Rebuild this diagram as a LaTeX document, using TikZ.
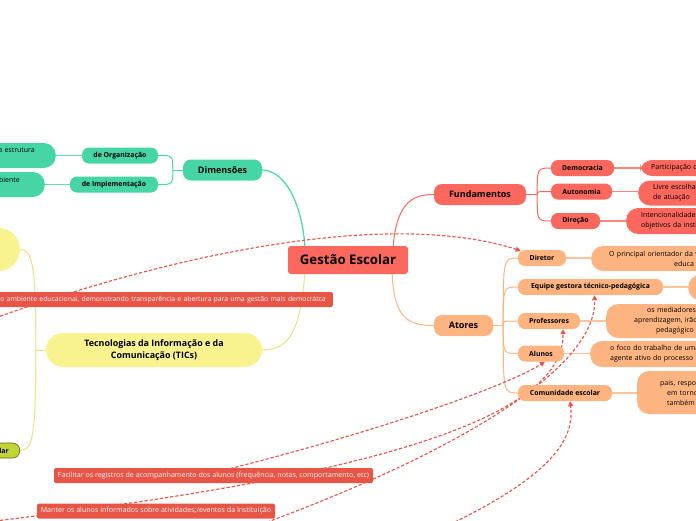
\documentclass[tikz,border=0pt]{standalone}
\usepackage{fontspec}
\setmainfont{Open Sans}
\usepackage{tikz}
\usetikzlibrary{arrows.meta}
\definecolor{RootRed}{RGB}{252,104,94}
\definecolor{LinkRed}{RGB}{232,84,70}
\definecolor{DimGreen}{RGB}{70,214,165}
\definecolor{TicYellow}{RGB}{248,243,142}
\definecolor{AtorOrange}{RGB}{254,180,128}
\definecolor{LimeNode}{RGB}{194,212,52}
\definecolor{LimeDark}{RGB}{90,100,30}
\pgfdeclarelayer{bg}
\pgfdeclarelayer{links}
\pgfsetlayers{bg,links,main}
\tikzset{
  rootbox/.style={fill=RootRed, rounded corners=3pt, minimum width=120pt, minimum height=28pt,
    inner sep=0pt, font=\fontsize{13.2}{15}\selectfont\bfseries},
  topicbox/.style={rounded corners=8pt, minimum height=21pt, inner sep=0pt,
    font=\fontsize{9}{11}\selectfont\bfseries},
  subbox/.style={rounded corners=7pt, minimum height=16pt, inner sep=0pt,
    font=\fontsize{6.9}{8}\selectfont\bfseries},
  leafbox/.style={rounded corners=12pt, anchor=west, inner ysep=0pt, text width=90pt, align=left,
    font=\fontsize{7}{10}\selectfont},
  linkbox/.style={fill=LinkRed, rounded corners=1.5pt, text=white, inner sep=0pt, minimum height=15pt,
    font=\fontsize{7.1}{8}\selectfont},
  linkarr/.style={LinkRed, line width=1.15pt, dash pattern=on 3.2pt off 2pt,
    -{Triangle[length=5pt,width=5pt]}},
  branch/.style={line width=1pt},
  twig/.style={line width=1.6pt},
}

\begin{document}
\begin{tikzpicture}[x=1pt, y=-1pt]
  \useasboundingbox (0,0) rectangle (696,520);
  % central topic
  \node[rootbox] (gestao) at (348,260) {Gestão Escolar};
  % Dimensões
  \node[topicbox, fill=DimGreen, minimum width=79pt] (dim) at (222.5,170) {Dimensões};
  \node[subbox, fill=DimGreen, minimum width=76pt] (org) at (120,155.5) {de Organização};
  \node[subbox, fill=DimGreen, minimum width=88pt] (impl) at (114,184.5) {de Implementação};
  \node[leafbox, fill=DimGreen, anchor=east, minimum height=25pt, text width=80pt, align=right,
    inner xsep=21pt] (orgleaf) at (56,155.5) {a estrutura\\\mbox{}};
  \node[leafbox, fill=DimGreen, anchor=east, minimum height=25pt, text width=80pt, align=right,
    inner xsep=25pt] (implleaf) at (45,184.5) {biente\\\mbox{}};
  % TICs
  \node[fill=TicYellow, rounded corners=17pt, minimum width=216pt, minimum height=34pt, inner sep=0pt,
    align=center, font=\fontsize{8.9}{12}\selectfont\bfseries] (tic) at (154,350)
    {Tecnologias da Informação e da\\Comunicação (TICs)};
  \node[fill=TicYellow, rounded corners=21pt, anchor=east, minimum width=80pt, minimum height=43pt]
    (ticleafa) at (20,249.5) {};
  \node[subbox, fill=LimeNode, draw=LimeDark, line width=0.6pt, anchor=east, text width=40pt,
    align=right, inner xsep=11pt, minimum height=15pt] (ticleafb) at (20,450.5) {lar};
  % Fundamentos
  \node[topicbox, fill=RootRed, minimum width=92pt] (fund) at (480,194.5) {Fundamentos};
  \node[subbox, fill=RootRed, minimum width=63pt] (dem) at (582.5,168) {Democracia};
  \node[subbox, fill=RootRed, minimum width=61pt] (aut) at (581.5,191.5) {Autonomia};
  \node[subbox, fill=RootRed, minimum width=49pt] (dir) at (575.5,221) {Direção};
  \node[leafbox, fill=RootRed, minimum height=16pt, inner xsep=11pt] (demleaf) at (640,168)
    {Participação d};
  \node[leafbox, fill=RootRed, minimum height=25pt, inner xsep=15pt] (autleaf) at (638,193)
    {Livre escolha\\de atuação};
  \node[leafbox, fill=RootRed, minimum height=26pt, inner xsep=15pt] (dirleaf) at (626,221)
    {Intencionalidade\\objetivos da insti};
  % Atores
  \node[topicbox, fill=AtorOrange, minimum width=59pt] (atores) at (463.5,325.5) {Atores};
  \node[subbox, fill=AtorOrange, minimum width=48pt] (diretor) at (542,258) {Diretor};
  \node[subbox, fill=AtorOrange, minimum width=145pt] (equipe) at (590.5,287)
    {Equipe gestora técnico-pedagógica};
  \node[subbox, fill=AtorOrange, minimum width=62pt] (profs) at (549,321) {Professores};
  \node[subbox, fill=AtorOrange, minimum width=46pt] (alunos) at (541,353.5) {Alunos};
  \node[subbox, fill=AtorOrange, minimum width=94pt] (comun) at (565,393) {Comunidade escolar};
  \node[leafbox, fill=AtorOrange, minimum height=25pt, inner xsep=18pt] (dirtleaf) at (591,258.5)
    {O principal orientador da v\\\hspace*{65pt}educa};
  \node[leafbox, fill=AtorOrange, minimum height=25pt, text width=30pt, inner xsep=6pt] (equleaf)
    at (688,287.5) {};
  \node[leafbox, fill=AtorOrange, minimum height=34pt, inner xsep=28pt] (profleaf) at (606,321)
    {\hspace*{13pt}os mediadores\\aprendizagem, irão\\\hspace*{22pt}pedagógico};
  \node[leafbox, fill=AtorOrange, minimum height=26pt, inner xsep=20pt] (alunleaf) at (590,354)
    {o foco do trabalho de uma\\agente ativo do processo e};
  \node[leafbox, fill=AtorOrange, minimum height=43pt, inner xsep=23pt] (comleaf) at (637,392.5)
    {pais, respo\\\hspace*{7pt}em torno\\\hspace*{7pt}também};
  % link labels
  \node[linkbox, anchor=east, text width=340pt, align=right, inner xsep=7pt,
    font=\fontsize{6.85}{8}\selectfont] (linkdemo) at (333,299.5)
    {o ambiente educacional, demonstrando transparência e abertura para uma gestão mais democrátca};
  \node[linkbox, minimum width=319pt] (linkreg) at (213.5,475.5)
    {Facilitar os registros de acompanhamento dos alunos (frequência, notas, comportamento, etc)};
  \node[linkbox, minimum width=238pt] (linkinfo) at (156,511)
    {Manter os alunos informados sobre atividades;/eventos da instituição};
  % connectors
  \coordinate (dimj) at ([xshift=-10pt]dim.west);
  \coordinate (fundj) at ([xshift=11pt]fund.east);
  \coordinate (atorj) at ([xshift=10pt]atores.east);
  \coordinate (ticj) at ([xshift=-10pt]tic.west);
  \begin{pgfonlayer}{bg}
    \draw[branch, DimGreen, line width=1.2pt] (dim.east) .. controls (290,171) and (303,215)
      .. ([xshift=17pt]gestao.north west);
    \draw[branch, TicYellow!93!black] ([xshift=17pt]gestao.south west) .. controls (300,330)
      and (290,350) .. (tic.east);
    \draw[branch, RootRed] ([xshift=-15pt]gestao.north east) .. controls (397,200)
      and (415,194.5) .. (fund.west);
    \draw[branch, AtorOrange] ([xshift=-16pt]gestao.south east) .. controls (394,320)
      and (410,325.5) .. (atores.west);
    \draw[branch, DimGreen] (dim.west) -- (dimj);
    \foreach \c in {org,impl}
      \draw[branch, DimGreen] (dimj) .. controls (dimj |- \c.east) .. (\c.east);
    \draw[branch, RootRed] (fund.east) -- (fundj);
    \foreach \c in {dem,aut,dir}
      \draw[branch, RootRed] (fundj) .. controls (fundj |- \c.west) .. (\c.west);
    \draw[branch, AtorOrange] (atores.east) -- (atorj);
    \foreach \c in {diretor,equipe,profs,alunos,comun}
      \draw[branch, AtorOrange] (atorj) .. controls (atorj |- \c.west) .. (\c.west);
    \draw[branch, TicYellow!93!black] (tic.west) -- (ticj);
    \draw[branch, TicYellow!93!black] (ticj) .. controls (36,262) and (32,249.5) .. (ticleafa.east);
    \draw[branch, TicYellow!93!black] (ticj) .. controls (36,440) and (32,450.5) .. (ticleafb.east);
    % twigs to leaves
    \draw[twig, DimGreen!85!white] (org.west) -- (orgleaf.east);
    \draw[twig, DimGreen!85!white] (impl.west) -- (implleaf.east);
    \draw[twig, RootRed!80!white] (dem.east) -- (dem.east -| demleaf.west);
    \draw[twig, RootRed!80!white] (aut.east) -- (aut.east -| autleaf.west);
    \draw[twig, RootRed!80!white] (dir.east) -- (dir.east -| dirleaf.west);
    \draw[twig, AtorOrange!80!white] (diretor.east) -- (diretor.east -| dirtleaf.west);
    \draw[twig, AtorOrange!80!white] (equipe.east) -- (equipe.east -| equleaf.west);
    \draw[twig, AtorOrange!80!white] (profs.east) -- (profs.east -| profleaf.west);
    \draw[twig, AtorOrange!80!white] (alunos.east) -- (alunos.east -| alunleaf.west);
    \draw[twig, AtorOrange!80!white] (comun.east) -- (comun.east -| comleaf.west);
  \end{pgfonlayer}
  % dashed relations
  \coordinate (srcdemo) at (-5,318);
  \coordinate (srcreg) at (200,476);
  \coordinate (srcinfo) at (-5,521);
  \coordinate (srcequipe) at (262,524);
  \coordinate (srccomun) at (455,522);
  \begin{pgfonlayer}{links}
    \draw[linkarr] (srcdemo) .. controls (200,245) and (400,212) .. ([xshift=3pt,yshift=-1pt]diretor.north west);
    \draw[linkarr] (srcreg) .. controls (350,440) and (500,390) .. ([xshift=4pt]alunos.south);
    \draw[linkarr] (srcinfo) .. controls (250,490) and (565,440) .. ([xshift=14pt]profs.south);
    \draw[linkarr] (srcequipe) .. controls (450,455) and (597,370) .. ([xshift=4pt]equipe.south);
    \draw[linkarr] (srccomun) .. controls (550,475) and (575,440) .. ([xshift=5pt]comun.south);
  \end{pgfonlayer}
\end{tikzpicture}
\end{document}
